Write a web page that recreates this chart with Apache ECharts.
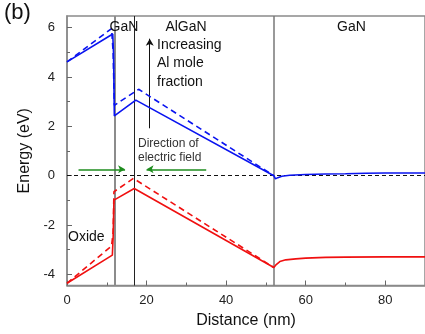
<!DOCTYPE html>
<html><head><meta charset="utf-8">
<script src="https://cdn.jsdelivr.net/npm/echarts@6/dist/echarts.min.js"></script>
<style>html,body{margin:0;padding:0;background:#fff}#c{width:425px;height:334px}</style>
</head><body><div id="c"></div>
<script>
// ---- data ----
const xTicks = [0, 20, 40, 60, 80];
const xMinorTicks = [10, 30, 50, 70, 90];
const yTicks = [-4, -2, 0, 2, 4, 6];
const yMinorTicks = [-3, -1, 1, 3, 5];

// conduction band, lower Al fraction (solid blue)
const cbSolid = [[0,4.61],[11.5,5.74],[11.7,4.95],[11.9,2.42],[17.3,3.06],[52,0.0],[52.4,-0.13],[53,-0.08],[54,-0.02],[56,0.02],[60,0.05],[65,0.07],[70,0.08],[75,0.10],[80,0.11],[90,0.11]];
// conduction band, higher Al fraction (dashed blue)
const cbDashed = [[0,4.61],[11.2,5.96],[11.6,5.0],[11.9,2.85],[18.0,3.50],[52,0.0]];
// valence band, lower Al fraction (solid red)
const vbSolid = [[0,-4.36],[11.4,-3.22],[11.6,-2.5],[11.8,-0.99],[16.9,-0.52],[52,-3.72],[52.2,-3.76],[52.6,-3.60],[53.5,-3.48],[55,-3.41],[57.5,-3.37],[60,-3.34],[65,-3.31],[70,-3.30],[80,-3.29],[90,-3.29]];
// valence band, higher Al fraction (dashed red)
const vbDashed = [[0,-4.36],[11.2,-2.85],[11.6,-2.3],[11.8,-0.65],[16.7,-0.11],[52,-3.72]];

// layer boundaries (nm)
const boundaries = [12, 17, 52];
// annotation arrows [x1,y1,x2,y2]
const fieldArrowLeft = [2.9, 0.26, 14.6, 0.26];
const fieldArrowRight = [35.0, 0.26, 20.0, 0.26];
const alArrow = [20.8, 1.92, 20.8, 5.55];

const FONT = "'Liberation Sans', Arial, sans-serif";
const chart = echarts.init(document.getElementById('c'), null, {renderer: 'canvas'});

const tickStyle = {show: true, inside: true, length: 5, lineStyle: {color: '#666', width: 1}};
const minorStyle = {show: true, inside: true, length: 3, lineStyle: {color: '#666', width: 1}};

chart.setOption({
  animation: false,
  grid: {left: 67, right: 0, top: 16, bottom: 48.5, show: true, borderColor: '#8a8a8a', borderWidth: 1.5, backgroundColor: 'transparent'},
  xAxis: [{
    type: 'value', min: 0, max: 90,
    name: 'Distance (nm)', nameLocation: 'middle', nameGap: 27,
    nameTextStyle: {fontFamily: FONT, fontSize: 16, color: '#111'},
    axisLine: {show: true, onZero: false, lineStyle: {color: '#8a8a8a', width: 1.5}},
    axisTick: Object.assign({customValues: xTicks}, tickStyle),
    axisLabel: {customValues: xTicks, fontFamily: FONT, fontSize: 13, color: '#222', margin: 8},
    splitLine: {show: false}
  }, {
    type: 'value', min: 0, max: 90, position: 'bottom',
    axisLine: {show: false, onZero: false}, axisLabel: {show: false}, splitLine: {show: false},
    axisTick: Object.assign({customValues: xMinorTicks}, minorStyle)
  }],
  yAxis: [{
    type: 'value', min: -4.45, max: 6.47,
    name: 'Energy (eV)', nameLocation: 'middle', nameGap: 28, nameRotate: 90,
    nameTextStyle: {fontFamily: FONT, fontSize: 16, color: '#111'},
    axisLine: {show: true, onZero: false, lineStyle: {color: '#8a8a8a', width: 1.5}},
    axisTick: Object.assign({customValues: yTicks}, tickStyle),
    axisLabel: {customValues: yTicks, fontFamily: FONT, fontSize: 13, color: '#222', margin: 12},
    splitLine: {show: false}
  }, {
    type: 'value', min: -4.45, max: 6.47, position: 'left',
    axisLine: {show: false, onZero: false}, axisLabel: {show: false}, splitLine: {show: false},
    axisTick: Object.assign({customValues: yMinorTicks}, minorStyle)
  }],
  series: [
    {
      name: 'annotations', type: 'line', data: [], silent: true,
      markLine: {
        silent: true, symbol: 'none', label: {show: false}, animation: false,
        data: [
          {xAxis: boundaries[0], lineStyle: {color: '#8c8c8c', width: 2, type: 'solid'}},
          {xAxis: boundaries[1], lineStyle: {color: '#222', width: 1, type: 'solid'}},
          {xAxis: boundaries[2], lineStyle: {color: '#777', width: 1.5, type: 'solid'}},
          {yAxis: 0, lineStyle: {color: '#111', width: 1, type: [4, 3]}}
        ]
      }
    },
    {
      name: 'arrows', type: 'line', data: [], silent: true,
      markLine: {
        silent: true, symbol: ['none', 'arrow'], symbolSize: [6, 7], label: {show: false}, animation: false,
        data: [
          [{coord: [fieldArrowLeft[0], fieldArrowLeft[1]], lineStyle: {color: '#1e8c1e', width: 1.5, type: 'solid'}}, {coord: [fieldArrowLeft[2], fieldArrowLeft[3]]}],
          [{coord: [fieldArrowRight[0], fieldArrowRight[1]], lineStyle: {color: '#1e8c1e', width: 1.5, type: 'solid'}}, {coord: [fieldArrowRight[2], fieldArrowRight[3]]}],
          [{coord: [alArrow[0], alArrow[1]], lineStyle: {color: '#111', width: 1, type: 'solid'}}, {coord: [alArrow[2], alArrow[3]]}]
        ]
      }
    },
    {name: 'CB solid', type: 'line', data: cbSolid, showSymbol: false, symbol: 'none', lineStyle: {color: '#0a14f0', width: 1.6}, z: 5},
    {name: 'CB dashed', type: 'line', data: cbDashed, showSymbol: false, symbol: 'none', lineStyle: {color: '#0a14f0', width: 1.6, type: [6, 4]}, z: 5},
    {name: 'VB solid', type: 'line', data: vbSolid, showSymbol: false, symbol: 'none', lineStyle: {color: '#f01010', width: 1.6}, z: 5},
    {name: 'VB dashed', type: 'line', data: vbDashed, showSymbol: false, symbol: 'none', lineStyle: {color: '#f01010', width: 1.6, type: [6, 4]}, z: 5}
  ],
  graphic: [
    {type: 'text', left: 4, top: 2, style: {text: '(b)', font: '22px ' + FONT, fill: '#111'}},
    {type: 'text', x: 124, y: 27, style: {text: 'GaN', font: '14px ' + FONT, fill: '#111', textAlign: 'center', textVerticalAlign: 'middle'}, z: 10},
    {type: 'text', x: 186, y: 27, style: {text: 'AlGaN', font: '14px ' + FONT, fill: '#111', textAlign: 'center', textVerticalAlign: 'middle'}, z: 10},
    {type: 'text', x: 351.5, y: 27, style: {text: 'GaN', font: '14px ' + FONT, fill: '#111', textAlign: 'center', textVerticalAlign: 'middle'}, z: 10},
    {type: 'text', x: 157, y: 45, style: {text: 'Increasing', font: '14px ' + FONT, fill: '#111', textAlign: 'left', textVerticalAlign: 'middle'}, z: 10},
    {type: 'text', x: 157, y: 63.5, style: {text: 'Al mole', font: '14px ' + FONT, fill: '#111', textAlign: 'left', textVerticalAlign: 'middle'}, z: 10},
    {type: 'text', x: 157, y: 82, style: {text: 'fraction', font: '14px ' + FONT, fill: '#111', textAlign: 'left', textVerticalAlign: 'middle'}, z: 10},
    {type: 'text', x: 138, y: 144, style: {text: 'Direction of', font: '12px ' + FONT, fill: '#333', textAlign: 'left', textVerticalAlign: 'middle'}, z: 10},
    {type: 'text', x: 138, y: 157.5, style: {text: 'electric field', font: '12px ' + FONT, fill: '#333', textAlign: 'left', textVerticalAlign: 'middle'}, z: 10},
    {type: 'text', x: 68, y: 237, style: {text: 'Oxide', font: '14px ' + FONT, fill: '#111', textAlign: 'left', textVerticalAlign: 'middle'}, z: 10}
  ]
});
</script></body></html>
